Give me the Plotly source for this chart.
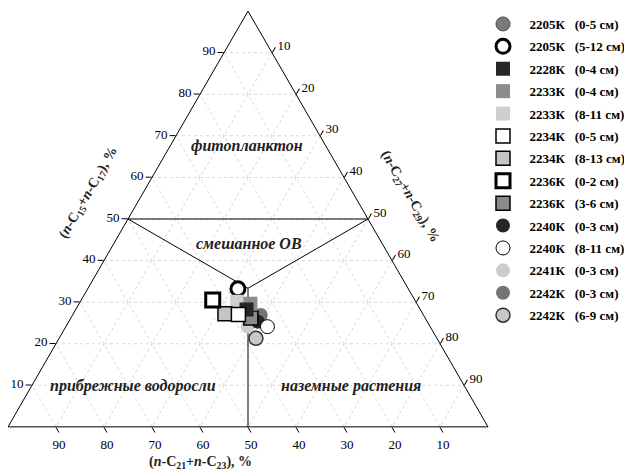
import plotly.graph_objects as go

# ---- data ----
samples = ["2205К", "2205К", "2228К", "2233К", "2233К", "2234К", "2234К",
           "2236К", "2236К", "2240К", "2240К", "2241К", "2242К", "2242К"]
depths = ["(0-5 см)", "(5-12 см)", "(0-4 см)", "(0-4 см)", "(8-11 см)", "(0-5 см)", "(8-13 см)",
          "(0-2 см)", "(3-6 см)", "(0-3 см)", "(8-11 см)", "(0-3 см)", "(0-3 см)", "(6-9 см)"]
# a: n-C15+n-C17, b: n-C21+n-C23, c: n-C27+n-C29 (%)
c15_17 = [26.2, 33.2, 28.2, 29.6, 30.1, 27.0, 27.2, 30.5, 26.2, 25.3, 24.1, 24.1, 26.9, 21.3]
c21_23 = [34.6, 35.5, 36.2, 34.7, 37.2, 38.5, 41.2, 42.1, 36.3, 35.3, 33.9, 38.0, 33.9, 37.7]
c27_29 = [39.2, 31.3, 35.6, 35.7, 32.7, 34.5, 31.6, 27.4, 37.5, 39.4, 42.0, 37.9, 39.2, 41.0]

# field boundaries (a, b, c)
bound_a = [50, 50, 100/3, 50, None, 100/3, 0]
bound_b = [50, 0, 100/3, 50, None, 100/3, 50]
bound_c = [0, 50, 100/3, 0, None, 100/3, 50]

tick_vals = [10, 20, 30, 40, 50, 60, 70, 80, 90]

# ---- styles ----
symbols = ["circle", "circle", "square", "square", "square", "square", "square",
           "square", "square", "circle", "circle", "circle", "circle", "circle"]
fills = ["#7a7a7a", "white", "#262626", "#8c8c8c", "#cfcfcf", "white", "#c4c4c4",
         "white", "#8a8a8a", "#262626", "white", "#cccccc", "#747474", "#c8c8c8"]
lines = ["#4a4a4a", "black", "#262626", "#8c8c8c", "#cfcfcf", "black", "black",
         "black", "black", "#262626", "black", "#cccccc", "#747474", "#333333"]
lwidths = [1, 3, 0, 0, 0, 1.5, 1.5, 3, 1.5, 0, 1, 0, 0, 1.5]
draw_order = [0, 13, 11, 12, 9, 10, 1, 8, 4, 3, 2, 6, 5, 7]

FONT = "Liberation Serif"
OFF = 8  # page body margin
W, H = 632 - OFF, 473 - OFF

def px(x):
    return (x - OFF) / W

def py(y):
    return 1 - (y - OFF) / H

fig = go.Figure()

fig.add_trace(go.Scatterternary(
    a=bound_a, b=bound_b, c=bound_c, mode="lines",
    line=dict(color="black", width=1), showlegend=False, hoverinfo="skip"))

for i in draw_order:
    fig.add_trace(go.Scatterternary(
        a=[c15_17[i]], b=[c21_23[i]], c=[c27_29[i]], mode="markers",
        name=f"&nbsp;&nbsp;{samples[i]}&nbsp;&nbsp;&nbsp;{depths[i]}",
        legendrank=i + 1, legendgroup=f"g{i}",
        marker=dict(symbol=symbols[i], size=14, color=fills[i],
                    line=dict(color=lines[i], width=lwidths[i]))))

axis_common = dict(
    min=0, tickmode="array", tickvals=tick_vals, ticks="outside", ticklen=6,
    tickcolor="black", linecolor="black", linewidth=1, showline=True,
    gridcolor="#d8d8d8", griddash="dot", gridwidth=1,
    tickfont=dict(family=FONT, size=13, color="black"), title=dict(text=""))

fig.update_layout(
    width=W, height=H, paper_bgcolor="white", plot_bgcolor="white",
    margin=dict(l=0, r=0, t=0, b=0),
    ternary=dict(
        domain=dict(x=[0, px(488)], y=[py(427), py(11)]),
        bgcolor="white", sum=100,
        aaxis=axis_common, baxis=axis_common, caxis=axis_common),
    legend=dict(x=px(483), y=py(9), xanchor="left", yanchor="top",
                font=dict(family=FONT, size=13, color="black", weight="bold"),
                tracegroupgap=2.5, bgcolor="rgba(0,0,0,0)", itemsizing="trace"),
    font=dict(family=FONT, color="black"),
)

def ann(text, x, y, size, angle=0):
    fig.add_annotation(text=text, x=px(x), y=py(y), xref="paper", yref="paper",
                       xanchor="center", yanchor="middle",
                       showarrow=False, textangle=angle,
                       font=dict(family=FONT, size=size, color="#222222"))

ann("<b><i>фитопланктон</i></b>", 247, 146, 16)
ann("<b><i>смешанное OB</i></b>", 249, 243, 16)
ann("<b><i>прибрежные водоросли</i></b>", 133, 386, 16)
ann("<b><i>наземные растения</i></b>", 351, 386, 16)

ann("<b>(<i>n</i>-C<sub>21</sub>+<i>n</i>-C<sub>23</sub>), %</b>", 200, 462, 14)
ann("<b>(<i>n</i>-C<sub>15</sub>+<i>n</i>-C<sub>17</sub>), %</b>", 88, 193, 14, -60)
ann("<b>(<i>n</i>-C<sub>27</sub>+<i>n</i>-C<sub>29</sub>), %</b>", 410, 196, 14, 60)

fig.write_html("out.html")
